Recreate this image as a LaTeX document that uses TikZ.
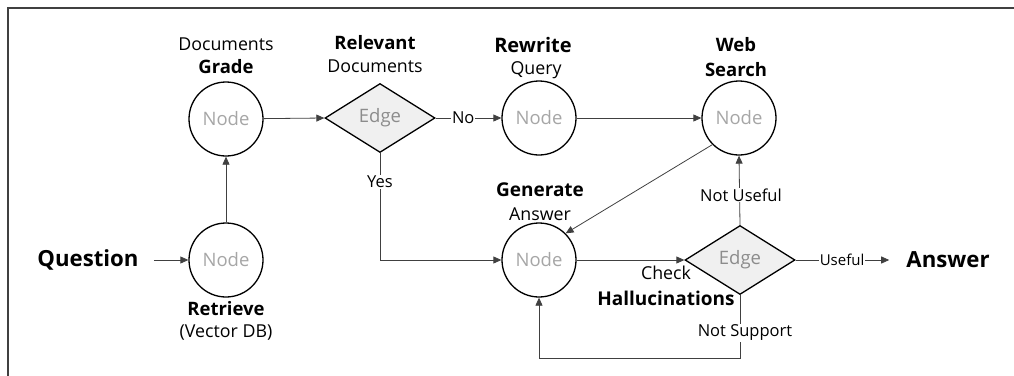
\documentclass[tikz,border=0pt]{standalone}
\usepackage{fontspec}
\setmainfont{Open Sans}
\usetikzlibrary{shapes.geometric,arrows.meta}
\begin{document}
\begin{tikzpicture}[x=1pt,y=-1pt,
  circnode/.style={circle,draw=black,line width=1.3pt,minimum size=74pt,inner sep=0pt,text=black!35,font=\fontsize{18.5}{22}\selectfont},
  edgenode/.style={diamond,draw=black,line width=1.3pt,fill=black!6,minimum width=110pt,minimum height=69pt,inner sep=0pt,text=black!45,font=\fontsize{18.5}{22}\selectfont},
  big/.style={font=\fontsize{22.2}{26}\selectfont\bfseries,inner sep=0pt},
  ttl/.style={font=\fontsize{18.5}{22}\selectfont\bfseries,inner sep=0pt},
  sub/.style={font=\fontsize{17.8}{21}\selectfont,inner sep=0pt},
  lbl/.style={font=\fontsize{16.5}{19}\selectfont,fill=white,inner sep=1pt},
  arr/.style={draw=black!75,line width=0.8pt,-{Triangle[length=8pt,width=7pt]}},
  ln/.style={draw=black!75,line width=0.8pt}]
\useasboundingbox (0,0) rectangle (1014,375);
\draw[black!75,line width=1.5pt] (8,8) rectangle (1030,390);
% nodes
\node[big] (q) at (88,260) {Question};
\node[circnode] (ret) at (226,260) {Node};
\node[circnode] (grd) at (226,119) {Node};
\node[edgenode] (d1) at (380,118) {Edge};
\node[circnode] (rw) at (539,118) {Node};
\node[circnode] (ws) at (739,118) {Node};
\node[circnode] (gen) at (539,260) {Node};
\node[edgenode] (d2) at (740,260) {Edge};
\node[big] (ans) at (948,260) {Answer};
% titles
\node[sub] (t1a) at (226,44) {Documents};
\node[ttl] (t1b) at (226,67) {Grade};
\node[ttl] (t2a) at (226,309) {Retrieve};
\node[sub] (t2b) at (226,333) {(Vector DB)};
\node[ttl] (t3a) at (375,43) {Relevant};
\node[sub] (t3b) at (375,66) {Documents};
\node[ttl,font=\fontsize{20}{24}\selectfont\bfseries] (t4a) at (533,45) {Rewrite};
\node[sub] (t4b) at (536,70) {Query};
\node[ttl] (t5a) at (736,45) {Web};
\node[ttl] (t5b) at (736,70) {Search};
\node[ttl,font=\fontsize{19}{22}\selectfont\bfseries] (t6a) at (540,190) {Generate};
\node[sub] (t6b) at (540,214) {Answer};
\node[sub] (t7a) at (666,273) {Check};
\node[ttl,font=\fontsize{19}{22}\selectfont\bfseries] (t7b) at (666,298) {Hallucinations};
% connectors
\draw[arr] (q.east) ++(15,0) coordinate (qs) -- (ret.west);
\draw[arr] (ret) -- (grd);
\draw[arr] (grd) -- (d1.west);
\draw[arr] (d1.east) -- node[lbl,pos=0.42] (no) {No} (rw.west);
\draw[arr] (rw) -- (ws);
\draw[arr] (d1.south) |- (gen.west);
\node[lbl] (yes) at (380,182) {Yes};
\draw[arr] (ws.south west) -- (gen.north east);
\draw[arr] (gen) -- (d2.west);
\draw[arr] (d2.north) -- (ws.south);
\node[lbl] (nu) at (741,195) {Not Useful};
\draw[arr,shorten >=17pt] (d2.east) -- node[lbl,pos=0.42,font=\fontsize{15}{18}\selectfont] (us) {Useful} (ans.west);
\draw[arr] (d2.south) -- ++(0,63) coordinate (lp) -| (gen.south);
\node[lbl] (ns) at (745,333) {Not Support};
\end{tikzpicture}
\end{document}
